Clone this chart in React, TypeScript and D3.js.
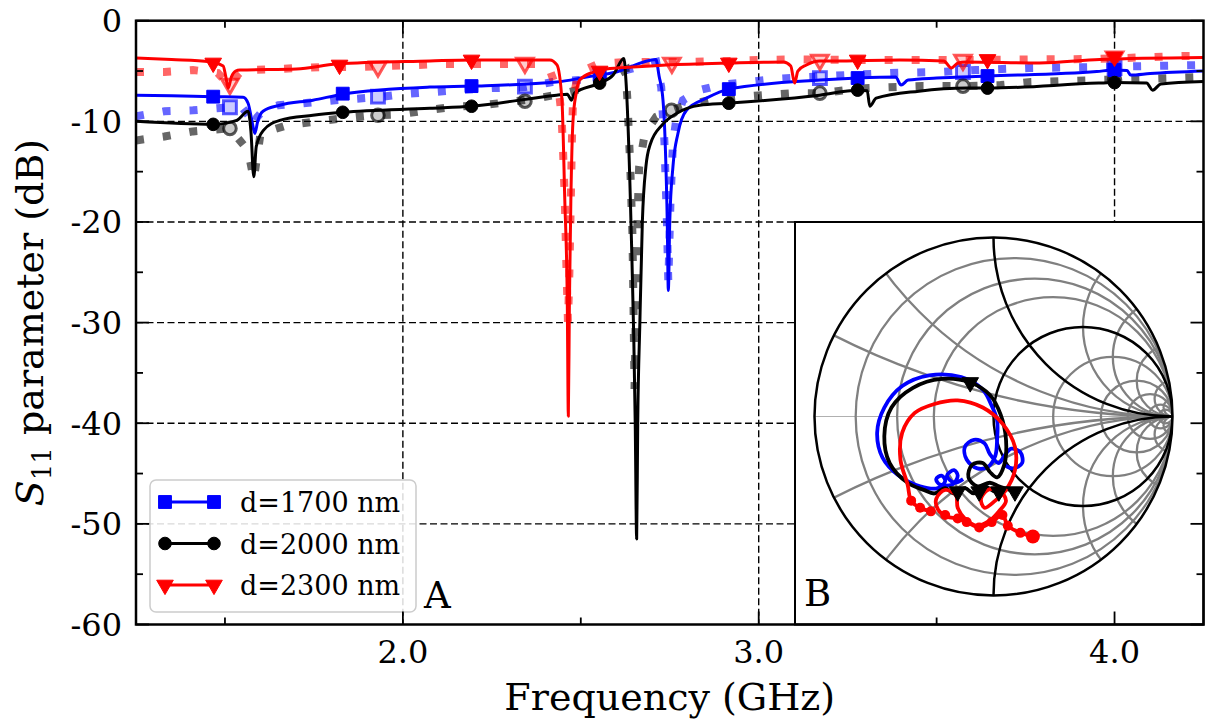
import React from "react";
import * as d3 from "d3";

type Pt = [number, number];

// axis ticks
const freqMajor = [2.0, 3.0, 4.0];
const freqMinor = [1.5, 2.5, 3.5];
const dbMajor = [0, -10, -20, -30, -40, -50, -60];
const dbMinor = [-5, -15, -25, -35, -45, -55];
const legendLabels = ["d=1700 nm", "d=2000 nm", "d=2300 nm"];

// simulated S11 (solid), [GHz, dB]
const sim1700: Pt[] = [
  [1.25, -7.4], [1.35, -7.45], [1.467, -7.55], [1.551, -7.6], [1.565, -8.2], [1.576, -10], [1.584, -11.2],
  [1.592, -10], [1.607, -9.0], [1.654, -8.4], [1.747, -7.9], [1.831, -7.3], [2.076, -6.6], [2.193, -6.5],
  [2.432, -6.1], [2.516, -5.6], [2.6, -5.1], [2.711, -3.85], [2.72, -5.5], [2.731, -7.9], [2.738, -13],
  [2.743, -20], [2.746, -26.8], [2.75, -20], [2.759, -14.5], [2.773, -11.2], [2.797, -8.9], [2.853, -7.7],
  [2.916, -6.8], [3.171, -5.9], [3.278, -5.7], [3.385, -5.6], [3.4, -6.4], [3.42, -5.9], [3.5, -5.7],
  [3.643, -5.5], [3.95, -5.05], [4.0, -4.9], [4.035, -4.95], [4.045, -5.4], [4.1, -5.25], [4.25, -5.0],
];
const sim2000: Pt[] = [
  [1.25, -10.0], [1.467, -10.3], [1.533, -9.9], [1.565, -9.0], [1.573, -11], [1.581, -15.5], [1.588, -12.5],
  [1.608, -10.9], [1.654, -9.9], [1.747, -9.4], [1.831, -9.1], [2.076, -8.7], [2.193, -8.5], [2.432, -7.4],
  [2.462, -7.3], [2.474, -7.9], [2.482, -7.2], [2.553, -6.2], [2.591, -5.4], [2.621, -3.75], [2.627, -6],
  [2.641, -20], [2.653, -40], [2.657, -51.5], [2.66, -40], [2.666, -30], [2.673, -20], [2.683, -14.5],
  [2.695, -12.3], [2.73, -10.3], [2.77, -9.2], [2.834, -8.4], [2.916, -8.2], [3.171, -7.4], [3.278, -6.9],
  [3.305, -6.95], [3.312, -8.5], [3.33, -7.7], [3.45, -7.0], [3.585, -6.7], [3.643, -6.7], [3.955, -6.2],
  [4.0, -6.15], [4.09, -6.2], [4.107, -6.9], [4.13, -6.3], [4.25, -6.05],
];
const sim2300: Pt[] = [
  [1.25, -3.7], [1.35, -3.85], [1.458, -4.07], [1.495, -4.5], [1.502, -5.5], [1.509, -6.7], [1.518, -5.6],
  [1.53, -5.0], [1.542, -4.9], [1.701, -4.8], [1.814, -4.3], [2.076, -4.0], [2.193, -3.9], [2.413, -3.9],
  [2.433, -4.4], [2.447, -7.9], [2.455, -17.8], [2.462, -27.8], [2.465, -39.3], [2.468, -28], [2.472, -18],
  [2.478, -10], [2.487, -7.2], [2.497, -5.9], [2.535, -5.1], [2.572, -4.8], [2.647, -4.6], [2.74, -4.4],
  [2.919, -4.2], [3.07, -4.1], [3.09, -4.5], [3.101, -6.2], [3.11, -5.0], [3.134, -4.4], [3.171, -4.0],
  [3.208, -4.0], [3.396, -3.9], [3.52, -4.0], [3.541, -4.7], [3.56, -4.2], [3.583, -4.1], [3.789, -4.2],
  [3.958, -3.85], [4.25, -3.65],
];

// markers on the solid curves
const simMarks1700: Pt[] = [[1.467, -7.55], [1.831, -7.25], [2.193, -6.5], [2.553, -5.4], [2.916, -6.8], [3.278, -5.7], [3.643, -5.5], [4.0, -4.9]];
const simMarks2000: Pt[] = [[1.467, -10.3], [1.831, -9.1], [2.193, -8.5], [2.553, -6.2], [2.916, -8.2], [3.278, -6.9], [3.643, -6.7], [4.0, -6.15]];
const simMarks2300: Pt[] = [[1.467, -4.2], [1.822, -4.4], [2.193, -3.9], [2.553, -5.0], [2.916, -4.2], [3.278, -3.9], [3.643, -3.85], [4.0, -3.6]];

// measured S11 (thick dotted), [GHz, dB]
const meas1700: Pt[] = [
  [1.25, -9.5], [1.33, -9.0], [1.41, -8.9], [1.514, -8.6], [1.55, -8.7], [1.57, -9.6], [1.58, -10.5], [1.59, -9.6],
  [1.61, -8.8], [1.65, -8.4], [1.72, -8.2], [1.81, -7.9], [1.93, -7.6], [2.0, -7.3], [2.08, -7.1], [2.16, -6.9],
  [2.25, -6.7], [2.343, -6.6], [2.42, -6.1], [2.495, -5.9], [2.57, -5.4], [2.646, -4.75], [2.712, -4.1],
  [2.726, -6.6], [2.735, -12], [2.742, -20], [2.746, -26.0], [2.752, -18], [2.759, -12.2], [2.768, -9.9],
  [2.787, -7.9], [2.834, -6.9], [2.89, -6.4], [2.965, -6.1], [3.06, -5.75], [3.134, -5.6], [3.25, -5.4],
  [3.37, -5.2], [3.5, -5.1], [3.61, -4.9], [3.76, -4.7], [3.95, -4.6], [4.25, -4.4],
];
const meas2000: Pt[] = [
  [1.25, -11.9], [1.33, -11.5], [1.41, -11.0], [1.514, -10.7], [1.565, -12.9], [1.581, -15.8], [1.6, -11.2],
  [1.674, -10.4], [1.758, -10.0], [1.833, -9.7], [1.917, -9.4], [1.992, -9.3], [2.068, -8.9], [2.143, -8.55],
  [2.225, -8.4], [2.305, -8.05], [2.38, -7.7], [2.455, -7.2], [2.513, -6.7], [2.553, -6.2], [2.6, -5.4],
  [2.626, -4.9], [2.631, -7.9], [2.635, -11.2], [2.639, -14.5], [2.642, -17.8], [2.645, -21.1], [2.648, -28],
  [2.651, -36.6], [2.655, -28], [2.659, -20], [2.664, -14.5], [2.68, -11.2], [2.712, -9.55], [2.755, -8.9],
  [2.797, -8.4], [2.862, -7.9], [2.937, -7.6], [3.012, -7.4], [3.096, -7.2], [3.172, -7.2], [3.298, -6.7],
  [3.46, -6.5], [3.574, -6.5], [3.68, -6.4], [3.765, -6.1], [3.95, -5.9], [4.11, -5.75], [4.25, -5.6],
];
const meas2300: Pt[] = [
  [1.25, -5.1], [1.33, -5.1], [1.41, -4.9], [1.48, -5.2], [1.5, -6.0], [1.514, -6.5], [1.53, -5.6], [1.55, -4.9],
  [1.62, -4.85], [1.7, -4.7], [1.78, -4.6], [1.87, -4.6], [1.95, -4.5], [2.04, -4.4], [2.1, -4.3], [2.25, -4.3],
  [2.38, -4.3], [2.413, -4.9], [2.44, -7.5], [2.446, -9.5], [2.45, -12.8], [2.455, -17.8], [2.46, -25],
  [2.464, -30], [2.468, -25], [2.472, -17.8], [2.475, -12], [2.478, -8], [2.487, -6.2], [2.497, -5.1],
  [2.549, -4.3], [2.625, -4.1], [2.72, -4.1], [2.8, -4.1], [2.92, -4.0], [3.0, -3.9], [3.1, -3.85],
  [3.3, -3.9], [3.6, -3.9], [3.95, -3.8], [4.2, -3.5], [4.25, -3.5],
];
const measMarks1700: Pt[] = [[1.514, -8.6], [1.93, -7.55], [2.343, -6.55], [3.172, -5.7], [3.574, -5.1], [4.0, -4.7]];
const measMarks2000: Pt[] = [[1.514, -10.7], [1.93, -9.4], [2.343, -8.0], [2.755, -8.9], [3.172, -7.2], [3.574, -6.5], [4.0, -5.9]];
const measMarks2300: Pt[] = [[1.514, -6.3], [1.93, -4.57], [2.343, -4.2], [2.756, -4.2], [3.172, -3.9], [3.574, -3.9], [4.0, -3.6]];

// Smith chart (inset B): reflection coefficient [Re, Im]
const smithR = [0.13, 0.3, 0.5, 2, 4, 7, 14, 25];
const smithX = [0.24, 0.5, 2, 3, 5, 10, 20];
const smith1700: Pt[] = [
  [-0.17, -0.35], [-0.22, -0.37], [-0.26, -0.33], [-0.22, -0.3], [-0.2, -0.33], [-0.23, -0.38], [-0.3, -0.38],
  [-0.32, -0.35], [-0.29, -0.33], [-0.27, -0.36], [-0.31, -0.4], [-0.41, -0.39], [-0.53, -0.33], [-0.62, -0.23],
  [-0.65, -0.09], [-0.61, 0.05], [-0.51, 0.17], [-0.36, 0.23], [-0.18, 0.22], [-0.06, 0.15], [-0.01, 0.06],
  [0.02, -0.02], [0.02, -0.13], [0.01, -0.22], [-0.03, -0.28], [-0.09, -0.29], [-0.15, -0.24], [-0.16, -0.17],
  [-0.11, -0.13], [-0.05, -0.15], [-0.02, -0.21], [0.03, -0.26], [0.06, -0.22], [0.1, -0.18], [0.15, -0.2],
  [0.16, -0.26], [0.11, -0.29], [0.06, -0.27],
];
const smith2000: Pt[] = [
  [0.12, -0.42], [0.06, -0.4], [0.01, -0.42], [-0.05, -0.39], [-0.11, -0.43], [-0.16, -0.4], [-0.22, -0.43],
  [-0.27, -0.4], [-0.33, -0.43], [-0.39, -0.41], [-0.48, -0.37], [-0.58, -0.26], [-0.61, -0.11], [-0.57, 0.05],
  [-0.45, 0.16], [-0.29, 0.21], [-0.13, 0.19], [-0.02, 0.12], [0.04, 0.01], [0.07, -0.13], [0.06, -0.27],
  [0.02, -0.34], [-0.02, -0.31], [-0.06, -0.26], [-0.12, -0.27], [-0.14, -0.34], [-0.09, -0.39], [-0.02, -0.37],
  [0.03, -0.39], [0.09, -0.41],
];
const smith2300: Pt[] = [
  [-0.35, -0.53], [-0.41, -0.51], [-0.46, -0.47], [-0.48, -0.38], [-0.52, -0.24], [-0.51, -0.09], [-0.44, 0.02],
  [-0.33, 0.07], [-0.2, 0.09], [-0.06, 0.05], [0.05, -0.04], [0.12, -0.17], [0.12, -0.3], [0.07, -0.41],
  [0.01, -0.47], [-0.05, -0.51], [-0.07, -0.46], [-0.03, -0.41], [0.03, -0.41], [0.07, -0.47], [0.03, -0.53],
  [-0.02, -0.58], [-0.09, -0.61], [-0.16, -0.57], [-0.2, -0.51], [-0.21, -0.44], [-0.27, -0.41], [-0.32, -0.46],
  [-0.31, -0.52], [-0.26, -0.56], [-0.2, -0.57], [-0.15, -0.59], [-0.08, -0.62], [-0.01, -0.59], [0.05, -0.55],
  [0.08, -0.61], [0.15, -0.65], [0.22, -0.67],
];
const smithMarks2000: Pt[] = [[-0.13, 0.19], [0.12, -0.42], [0.03, -0.42], [-0.08, -0.42], [-0.2, -0.42]];
const smithMarks2300: Pt[] = [
  [-0.46, -0.47], [-0.41, -0.51], [-0.35, -0.53], [-0.27, -0.55], [-0.2, -0.57], [-0.15, -0.59], [-0.08, -0.62],
  [-0.01, -0.59], [0.05, -0.55], [0.08, -0.61], [0.15, -0.65],
];

const FONT = "DejaVu Serif";

const series = [
  { color: "#0000ff", shape: "square", sim: sim1700, simMarks: simMarks1700, meas: meas1700, measMarks: measMarks1700, smith: smith1700 },
  { color: "#000000", shape: "circle", sim: sim2000, simMarks: simMarks2000, meas: meas2000, measMarks: measMarks2000, smith: smith2000 },
  { color: "#ff0000", shape: "triangle", sim: sim2300, simMarks: simMarks2300, meas: meas2300, measMarks: measMarks2300, smith: smith2300 },
];

function symPath(shape: string) {
  if (shape === "square") return d3.symbol().type(d3.symbolSquare).size(165)()!;
  if (shape === "circle") return d3.symbol().type(d3.symbolCircle).size(125)()!;
  return d3.symbol().type(d3.symbolTriangle).size(120)()!;
}

function Marker({ shape, cx, cy, color, hollow }: any) {
  const t = shape === "triangle" ? `translate(${cx},${cy}) rotate(180)` : `translate(${cx},${cy})`;
  if (hollow) {
    return (
      <path d={symPath(shape)} transform={t} fill={color} fillOpacity={0.2}
        stroke={color} strokeOpacity={0.65} strokeWidth={3} />
    );
  }
  return <path d={symPath(shape)} transform={t} fill={color} stroke={color} strokeWidth={1} />;
}

export default function App() {
  const left = 136, right = 1203.5, top = 20.7, bottom = 624.5;
  const x = d3.scaleLinear().domain([1.25, 4.25]).range([left, right]);
  const y = d3.scaleLinear().domain([-60, 0]).range([bottom, top]);
  const line = d3.line<Pt>().x(d => x(d[0])).y(d => y(d[1])).curve(d3.curveMonotoneX);
  const dotLine = d3.line<Pt>().x(d => x(d[0])).y(d => y(d[1]));

  // inset
  const ix0 = 795, iy0 = 222;
  const scx = 993.5, scy = 416.5, R = 179;
  const gx = d3.scaleLinear().domain([-1, 1]).range([scx - R, scx + R]);
  const gy = d3.scaleLinear().domain([-1, 1]).range([scy + R, scy - R]);
  const sLine = d3.line<Pt>().x(d => gx(d[0])).y(d => gy(d[1])).curve(d3.curveCatmullRom);

  const circ = (cxG: number, cyG: number, rG: number) => {
    const p = d3.path();
    p.arc(gx(cxG), gy(cyG), rG * R, 0, Math.PI * 2);
    return p.toString();
  };

  const majorLen = 13, minorLen = 7;
  const redEnd = smith2300[smith2300.length - 1];

  return (
    <svg
      width={1208}
      height={727}
      style={{ position: "absolute", left: 0, top: 0, background: "#fff" }}
      fontFamily={FONT}
    >
      <defs>
        <clipPath id="plotClip">
          <rect x={left} y={top} width={right - left} height={bottom - top} />
        </clipPath>
        <clipPath id="smithClip">
          <circle cx={scx} cy={scy} r={R} />
        </clipPath>
      </defs>
      <rect x={0} y={0} width={1208} height={727} fill="#fff" />

      {/* grid */}
      <g stroke="#000" strokeWidth={1.4} strokeDasharray="7 3.5">
        {freqMajor.map(f => (
          <line key={`gx${f}`} x1={x(f)} x2={x(f)} y1={top} y2={bottom} />
        ))}
        {dbMajor.filter(v => v !== 0 && v !== -60).map(v => (
          <line key={`gy${v}`} x1={left} x2={right} y1={y(v)} y2={y(v)} />
        ))}
      </g>

      {/* curves */}
      <g clipPath="url(#plotClip)">
        {series.map((s, i) => (
          <g key={`m${i}`}>
            <path d={dotLine(s.meas)!} fill="none" stroke={s.color} strokeOpacity={0.6} strokeWidth={8} strokeDasharray="8 19" />
            {s.measMarks.map((d, j) => (
              <Marker key={j} shape={s.shape} cx={x(d[0])} cy={y(d[1])} color={s.color} hollow />
            ))}
          </g>
        ))}
        {series.map((s, i) => (
          <g key={`s${i}`}>
            <path d={line(s.sim)!} fill="none" stroke={s.color} strokeWidth={3} strokeLinejoin="round" />
            {s.simMarks.map((d, j) => (
              <Marker key={j} shape={s.shape} cx={x(d[0])} cy={y(d[1])} color={s.color} />
            ))}
          </g>
        ))}
      </g>

      {/* legend */}
      <g>
        <rect x={150} y={480} width={266} height={132} rx={6} fill="#fff" fillOpacity={0.85} stroke="#cccccc" strokeWidth={1.5} />
        {series.map((s, i) => {
          const ly = 502 + i * 41.5;
          return (
            <g key={`l${i}`}>
              <line x1={165} x2={214} y1={ly} y2={ly} stroke={s.color} strokeWidth={3} />
              <Marker shape={s.shape} cx={165} cy={ly} color={s.color} />
              <Marker shape={s.shape} cx={214} cy={ly} color={s.color} />
              <text x={240} y={ly + 10} fontSize={27}>{legendLabels[i]}</text>
            </g>
          );
        })}
      </g>
      <text x={424} y={608} fontSize={37}>A</text>

      {/* inset Smith chart */}
      <rect x={ix0} y={iy0} width={right - ix0} height={bottom - iy0} fill="#fff" stroke="#000" strokeWidth={2} />
      <g clipPath="url(#smithClip)" fill="none">
        <line x1={scx - R} x2={scx + R} y1={scy} y2={scy} stroke="#b0b0b0" strokeWidth={1.2} />
        {smithR.map(r => (
          <path key={`r${r}`} d={circ(r / (1 + r), 0, 1 / (1 + r))} stroke="#808080" strokeWidth={2.3} />
        ))}
        {smithX.map(v => (
          <g key={`x${v}`}>
            <path d={circ(1, 1 / v, 1 / v)} stroke="#808080" strokeWidth={2.3} />
            <path d={circ(1, -1 / v, 1 / v)} stroke="#808080" strokeWidth={2.3} />
          </g>
        ))}
        <path d={circ(0.5, 0, 0.5)} stroke="#000" strokeWidth={2.5} />
        <path d={circ(1, 1, 1)} stroke="#000" strokeWidth={2.5} />
        <path d={circ(1, -1, 1)} stroke="#000" strokeWidth={2.5} />
        {series.map((s, i) => (
          <path key={`sm${i}`} d={sLine(s.smith)!} stroke={s.color} strokeWidth={3.8} />
        ))}
        {smithMarks2000.map((d, j) => (
          <Marker key={`bt${j}`} shape="triangle" cx={gx(d[0])} cy={gy(d[1])} color="#000" />
        ))}
        {smithMarks2300.map((d, j) => (
          <circle key={`rc${j}`} cx={gx(d[0])} cy={gy(d[1])} r={5} fill="#ff0000" />
        ))}
        <circle cx={gx(redEnd[0])} cy={gy(redEnd[1])} r={7} fill="#ff0000" />
      </g>
      <circle cx={scx} cy={scy} r={R} fill="none" stroke="#000" strokeWidth={2.5} />
      <text x={804} y={606} fontSize={37}>B</text>

      {/* frame and ticks */}
      <rect x={left} y={top} width={right - left} height={bottom - top} fill="none" stroke="#000" strokeWidth={2.5} />
      <g stroke="#000" strokeWidth={1.8}>
        {freqMajor.map(f => (
          <g key={`tx${f}`}>
            <line x1={x(f)} x2={x(f)} y1={bottom} y2={bottom - majorLen} />
            <line x1={x(f)} x2={x(f)} y1={top} y2={top + majorLen} />
          </g>
        ))}
        {freqMinor.map(f => (
          <g key={`tmx${f}`}>
            <line x1={x(f)} x2={x(f)} y1={bottom} y2={bottom - minorLen} />
            <line x1={x(f)} x2={x(f)} y1={top} y2={top + minorLen} />
          </g>
        ))}
        {dbMajor.map(v => (
          <g key={`ty${v}`}>
            <line x1={left} x2={left + majorLen} y1={y(v)} y2={y(v)} />
            <line x1={right} x2={right - majorLen} y1={y(v)} y2={y(v)} />
          </g>
        ))}
        {dbMinor.map(v => (
          <g key={`tmy${v}`}>
            <line x1={left} x2={left + minorLen} y1={y(v)} y2={y(v)} />
            <line x1={right} x2={right - minorLen} y1={y(v)} y2={y(v)} />
          </g>
        ))}
      </g>

      {/* tick labels */}
      {dbMajor.map(v => (
        <text key={`ly${v}`} x={122} y={y(v) + 11.5} fontSize={32} textAnchor="end">{v}</text>
      ))}
      {freqMajor.map(f => (
        <text key={`lx${f}`} x={x(f)} y={663} fontSize={32} textAnchor="middle">{f.toFixed(1)}</text>
      ))}

      {/* axis labels */}
      <text x={(left + right) / 2} y={710} fontSize={38} textAnchor="middle">Frequency (GHz)</text>
      <text transform={`translate(43, ${(top + bottom) / 2}) rotate(-90)`} fontSize={38} textAnchor="middle">
        <tspan fontStyle="italic">S</tspan>
        <tspan fontSize={26} dy={8}>11</tspan>
        <tspan dy={-8}> parameter (dB)</tspan>
      </text>
    </svg>
  );
}
